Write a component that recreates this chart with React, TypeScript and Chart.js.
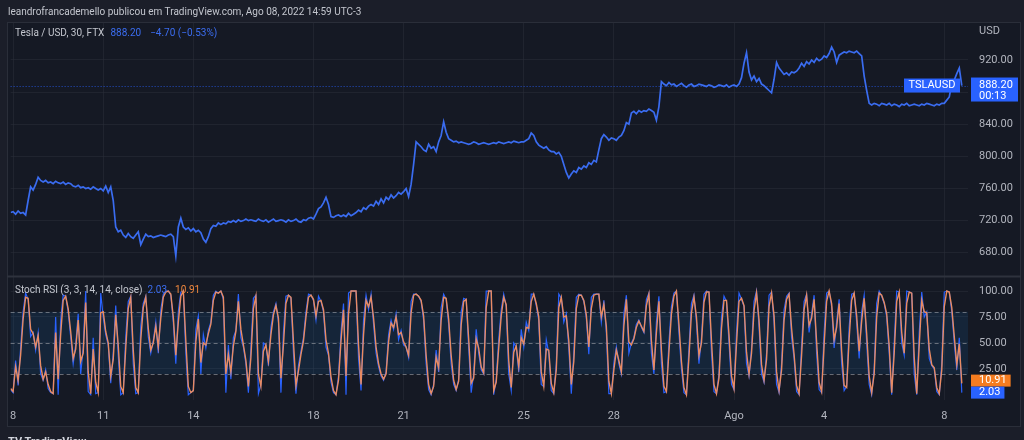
import React, { useEffect, useRef } from 'react';
import { Chart, registerables } from 'chart.js';

Chart.register(...registerables);

// ---- data (2-hour samples; day 0 = Jul 8 00:00, UTC-3) ----
const startDay = -1 / 12;
const stepDays = 1 / 12;

const priceValues = [
  730,
  731, 728, 732, 729, 730, 727, 745, 762, 758, 765, 774, 770,
  768, 770, 767, 768, 766, 769, 767, 766, 768, 765, 767, 766,
  763, 762, 764, 761, 762, 760, 761, 759, 762, 760, 758, 760,
  757, 763, 755, 762, 745, 712, 706, 708, 702, 699, 704, 700,
  698, 702, 706, 690, 697, 703, 700, 701, 699, 700, 701, 702,
  701, 700, 702, 703, 700, 676, 712, 723, 712, 709, 711, 707,
  710, 706, 708, 705, 697, 693, 700, 710, 714, 713, 717, 715,
  717, 716, 719, 718, 720, 718, 721, 719, 720, 722, 720, 721,
  720, 719, 722, 720, 719, 721, 718, 720, 722, 719, 720, 721,
  720, 718, 721, 719, 720, 722, 719, 718, 721, 720, 723, 724,
  722, 728, 735, 737, 742, 749, 740, 725, 724, 726, 727, 725,
  727, 725, 729, 726, 728, 730, 733, 731, 736, 734, 738, 740,
  738, 744, 740, 747, 742, 749, 746, 752, 748, 751, 755, 753,
  756, 760, 750, 765, 790, 818, 815, 812, 808, 806, 815, 810,
  812, 806, 818, 826, 843, 830, 822, 820, 818, 819, 817, 818,
  817, 816, 815, 816, 818, 817, 815, 816, 817, 816, 815, 816,
  817, 816, 818, 817, 816, 817, 818, 817, 819, 818, 817, 818,
  818, 820, 822, 829, 826, 818, 814, 812, 810, 812, 808, 806,
  806, 803, 805, 800, 790, 780, 773, 778, 782, 780, 786, 784,
  788, 786, 792, 790, 795, 793, 808, 822, 827, 824, 820, 823,
  822, 820, 824, 826, 832, 842, 840, 854, 856, 853, 857, 855,
  857, 856, 859, 857, 855, 845, 862, 893, 890, 888, 892, 889,
  890, 887, 889, 891, 888, 886, 889, 890, 887, 888, 890, 889,
  888, 887, 889, 888, 886, 887, 889, 888, 887, 889, 886, 888,
  889, 887, 890, 898, 916, 929, 905, 895, 900, 893, 897, 890,
  888, 885, 882, 879, 896, 917, 910, 906, 902, 904, 901, 905,
  904, 906, 910, 916, 912, 918, 915, 920, 917, 922, 919, 921,
  925, 923, 928, 936, 930, 917, 926, 928, 930, 929, 931, 930,
  929, 931, 928, 925, 900, 882, 866, 864, 866, 865, 863, 866,
  865, 864, 866, 863, 865, 864, 862, 865, 864, 866, 863, 864,
  865, 864, 863, 865, 864, 866, 865, 864, 863, 865, 864, 866,
  866, 870, 874, 891, 895, 903, 910, 888.2,
];

const stochK = [
  5,
  2, 33, 9, 45, 80, 98, 92, 56, 60, 43, 60, 20,
  14, 24, 6, 2, 1, 75, 0, 72, 96, 95, 80, 56,
  30, 48, 78, 20, 45, 100, 3, 0, 55, 1, 2, 98,
  75, 58, 48, 11, 40, 86, 38, 0, 2, 56, 90, 95,
  30, 1, 2, 66, 88, 95, 56, 40, 52, 70, 40, 82,
  97, 100, 100, 96, 70, 30, 80, 99, 100, 40, 0, 2,
  4, 63, 76, 20, 58, 45, 62, 70, 96, 100, 98, 100,
  92, 2, 48, 15, 55, 62, 97, 55, 46, 30, 2, 45,
  93, 96, 1, 10, 50, 48, 28, 65, 80, 88, 70, 2,
  60, 95, 96, 93, 40, 1, 28, 42, 55, 80, 97, 96,
  91, 72, 95, 90, 80, 46, 38, 12, 2, 0, 18, 60,
  88, 0, 98, 100, 100, 100, 35, 4, 72, 96, 82, 97,
  68, 40, 27, 18, 14, 22, 58, 72, 63, 78, 53, 62,
  48, 46, 36, 90, 97, 97, 95, 90, 72, 30, 5, 0,
  10, 43, 22, 84, 97, 92, 68, 30, 10, 4, 15, 80,
  93, 92, 45, 2, 20, 63, 40, 24, 20, 100, 100, 100,
  0, 15, 53, 82, 97, 85, 20, 4, 50, 46, 22, 63,
  46, 70, 62, 97, 97, 86, 72, 10, 8, 53, 40, 4,
  1, 30, 97, 93, 70, 78, 45, 1, 40, 94, 97, 96,
  90, 74, 39, 94, 97, 97, 97, 70, 91, 60, 1, 1,
  30, 46, 30, 20, 78, 96, 40, 50, 55, 68, 72, 65,
  60, 92, 98, 40, 20, 70, 95, 30, 2, 3, 50, 85,
  98, 100, 60, 25, 2, 0, 45, 88, 96, 70, 30, 55,
  97, 100, 99, 40, 3, 1, 20, 75, 95, 90, 50, 10,
  5, 60, 98, 92, 85, 30, 18, 45, 90, 100, 65, 20,
  12, 40, 96, 99, 70, 10, 2, 30, 82, 95, 98, 55,
  35, 3, 0, 48, 90, 97, 60, 78, 96, 40, 5, 2,
  60, 98, 100, 85, 45, 70, 92, 30, 4, 8, 65, 97,
  98, 70, 35, 80, 96, 50, 10, 0, 25, 88, 100, 95,
  88, 75, 40, 0, 50, 100, 99, 50, 38, 100, 99, 98,
  20, 0, 60, 99, 75, 80, 35, 28, 25, 3, 0, 30,
  99, 100, 99, 80, 50, 24, 55, 2.03,
];

const stochD = [
  6,
  3, 27, 14, 38, 73, 94, 93, 63, 59, 46, 57, 28,
  15, 22, 10, 3, 1, 60, 15, 58, 91, 95, 83, 61,
  35, 44, 72, 32, 40, 89, 22, 1, 44, 12, 2, 79,
  80, 61, 50, 18, 34, 77, 48, 8, 2, 45, 83, 94,
  43, 7, 2, 53, 84, 94, 64, 43, 50, 66, 46, 74,
  94, 99, 100, 97, 75, 38, 70, 95, 100, 52, 8, 2,
  4, 51, 73, 31, 50, 48, 59, 68, 91, 99, 98, 100,
  94, 20, 39, 22, 47, 61, 90, 63, 48, 33, 8, 36,
  83, 95, 20, 8, 42, 48, 32, 58, 77, 86, 74, 16,
  48, 88, 96, 94, 51, 9, 23, 39, 52, 75, 94, 96,
  92, 76, 90, 91, 82, 53, 40, 17, 4, 0, 14, 52,
  82, 18, 78, 100, 100, 100, 48, 10, 58, 91, 85, 94,
  74, 46, 30, 20, 15, 20, 51, 69, 65, 75, 58, 60,
  51, 46, 38, 79, 96, 97, 95, 91, 76, 38, 10, 1,
  8, 36, 26, 72, 94, 93, 73, 38, 14, 5, 13, 67,
  90, 92, 54, 11, 16, 54, 45, 27, 21, 84, 100, 100,
  4, 12, 45, 76, 94, 87, 33, 7, 41, 47, 27, 55,
  49, 65, 64, 90, 97, 88, 75, 22, 8, 44, 43, 11,
  2, 24, 84, 94, 75, 76, 52, 10, 32, 83, 96, 96,
  91, 77, 46, 83, 96, 97, 97, 75, 87, 66, 13, 1,
  24, 43, 33, 22, 66, 92, 51, 48, 54, 65, 71, 66,
  61, 86, 97, 52, 24, 60, 90, 43, 8, 3, 41, 78,
  95, 100, 68, 32, 7, 0, 36, 79, 94, 75, 38, 50,
  89, 99, 99, 52, 10, 1, 16, 64, 91, 91, 58, 18,
  6, 49, 90, 93, 86, 41, 20, 40, 81, 98, 72, 29,
  14, 34, 85, 98, 76, 22, 4, 24, 72, 92, 97, 64,
  39, 9, 1, 38, 82, 96, 67, 74, 92, 51, 12, 3,
  48, 90, 100, 88, 53, 65, 88, 42, 9, 7, 54, 91,
  98, 76, 42, 71, 93, 59, 18, 2, 20, 75, 98, 96,
  89, 78, 47, 2, 40, 90, 99, 60, 40, 88, 99, 98,
  36, 1, 48, 91, 80, 79, 44, 29, 26, 7, 1, 24,
  85, 100, 99, 84, 56, 29, 49, 10.91,
];

const dayTickValues = [0, 3, 6, 10, 13, 17, 20, 24, 27, 31];
const dayTickLabels = ['8', '11', '14', '18', '21', '25', '28', 'Ago', '4', '8'];
const priceTicks = [680, 720, 760, 800, 840, 880, 920];
const rsiTicks = [25, 50, 75, 100];
const rsiBandLevels = [80, 50, 20];

// ---- styles ----
const FONT = 'Roboto, "Liberation Sans", sans-serif';
const OUTER_BG = '#1b1e29';
const INNER_BG = '#151924';
const FRAME_COLOR = '#2a2e39';
const GRID = 'rgba(42,46,57,0.55)';
const TEXT = '#b2b5be';
const BLUE = '#2962ff';
const PRICE_BLUE = '#3a6cf0';
const ORANGE = '#e98b62';
const FRAME = { left: 7, top: 22, right: 1021, bottom: 427 };

const toPoints = (vals: number[]) => vals.map((v, i) => ({ x: startDay + i * stepDays, y: v }));

const decor = {
  id: 'decor',
  beforeDraw(chart: any) {
    const { ctx } = chart;
    ctx.save();
    ctx.fillStyle = INNER_BG;
    ctx.fillRect(FRAME.left, FRAME.top, FRAME.right - FRAME.left, FRAME.bottom - FRAME.top);
    ctx.strokeStyle = FRAME_COLOR;
    ctx.lineWidth = 1;
    ctx.strokeRect(FRAME.left + 0.5, FRAME.top + 0.5, FRAME.right - FRAME.left - 1, FRAME.bottom - FRAME.top - 1);
    ctx.restore();
  },
  beforeDatasetsDraw(chart: any) {
    const { ctx, chartArea, scales } = chart;
    const r = scales.rsi;
    const p = scales.y;
    ctx.save();
    const yTop = r.getPixelForValue(rsiBandLevels[0]);
    const yBot = r.getPixelForValue(rsiBandLevels[2]);
    ctx.fillStyle = 'rgba(33,150,243,0.10)';
    ctx.fillRect(chartArea.left, yTop, chartArea.right - chartArea.left, yBot - yTop);
    ctx.strokeStyle = 'rgba(150,153,162,0.65)';
    ctx.lineWidth = 1;
    ctx.setLineDash([4, 3]);
    rsiBandLevels.forEach((lv) => {
      const yy = Math.round(r.getPixelForValue(lv)) + 0.5;
      ctx.beginPath();
      ctx.moveTo(chartArea.left, yy);
      ctx.lineTo(chartArea.right, yy);
      ctx.stroke();
    });
    const last = priceValues[priceValues.length - 1];
    const yp = Math.round(p.getPixelForValue(last)) + 0.5;
    ctx.strokeStyle = 'rgba(41,98,255,0.75)';
    ctx.setLineDash([1, 2]);
    ctx.beginPath();
    ctx.moveTo(chartArea.left, yp);
    ctx.lineTo(chartArea.right, yp);
    ctx.stroke();
    ctx.setLineDash([]);
    const ys = Math.round(p.bottom) + 0.5;
    ctx.strokeStyle = '#2e323d';
    ctx.lineWidth = 2;
    ctx.beginPath();
    ctx.moveTo(FRAME.left, ys);
    ctx.lineTo(FRAME.right, ys);
    ctx.stroke();
    ctx.restore();
  },
  afterDraw(chart: any) {
    const { ctx, chartArea, scales } = chart;
    const p = scales.y;
    const r = scales.rsi;
    ctx.save();
    ctx.font = `11px ${FONT}`;
    ctx.textBaseline = 'middle';
    ctx.textAlign = 'left';
    ctx.fillStyle = TEXT;
    ctx.fillText('USD', chartArea.right + 11, 31);
    const last = priceValues[priceValues.length - 1];
    const yp = p.getPixelForValue(last);
    const name = 'TSLAUSD';
    const nw = ctx.measureText(name).width + 9;
    ctx.fillStyle = BLUE;
    ctx.fillRect(chartArea.right - 8 - nw, yp - 7, nw, 14);
    ctx.fillStyle = '#ffffff';
    ctx.fillText(name, chartArea.right - 8 - nw + 4.5, yp);
    ctx.fillStyle = BLUE;
    ctx.fillRect(chartArea.right + 3, yp - 8, 47, 24);
    ctx.fillStyle = '#ffffff';
    ctx.fillText(last.toFixed(2), chartArea.right + 11, yp);
    ctx.fillText('00:13', chartArea.right + 11, yp + 11);
    const kLast = stochK[stochK.length - 1];
    const dLast = stochD[stochD.length - 1];
    const yk = r.getPixelForValue(kLast);
    const yd = Math.min(r.getPixelForValue(dLast), yk - 12);
    const dw = ctx.measureText(dLast.toFixed(2)).width + 12;
    ctx.fillStyle = '#f57c1f';
    ctx.fillRect(chartArea.right + 3, yd - 6, dw, 12);
    ctx.fillStyle = '#ffffff';
    ctx.fillText(dLast.toFixed(2), chartArea.right + 11, yd);
    const kw = ctx.measureText(kLast.toFixed(2)).width + 12;
    ctx.fillStyle = BLUE;
    ctx.fillRect(chartArea.right + 3, yk - 6, kw, 12);
    ctx.fillStyle = '#ffffff';
    ctx.fillText(kLast.toFixed(2), chartArea.right + 11, yk);
    ctx.restore();
  },
};

export default function App() {
  const canvasRef = useRef<HTMLCanvasElement | null>(null);

  useEffect(() => {
    const canvas = canvasRef.current;
    if (!canvas) return;
    Chart.defaults.font.family = FONT;
    Chart.defaults.font.size = 11;
    const chart = new Chart(canvas, {
      type: 'line',
      data: {
        datasets: [
          {
            label: 'Tesla / USD',
            data: toPoints(priceValues),
            yAxisID: 'y',
            borderColor: PRICE_BLUE,
            borderWidth: 1.7,
            pointRadius: 0,
            tension: 0,
            order: 0,
          },
          {
            label: '%D',
            data: toPoints(stochD),
            yAxisID: 'rsi',
            borderColor: ORANGE,
            borderWidth: 1.4,
            pointRadius: 0,
            tension: 0,
            order: 1,
          },
          {
            label: '%K',
            data: toPoints(stochK),
            yAxisID: 'rsi',
            borderColor: BLUE,
            borderWidth: 1.2,
            pointRadius: 0,
            tension: 0,
            order: 2,
          },
        ],
      },
      options: {
        animation: false,
        responsive: false,
        maintainAspectRatio: false,
        layout: { padding: { left: 7, top: 22, right: 0, bottom: 12 } },
        plugins: { legend: { display: false }, tooltip: { enabled: false } },
        scales: {
          x: {
            type: 'linear',
            min: -0.083,
            max: 31.79,
            afterBuildTicks: (s: any) => {
              s.ticks = dayTickValues.map((v) => ({ value: v }));
            },
            afterFit: (s: any) => {
              s.height = 28;
            },
            ticks: {
              autoSkip: false,
              maxRotation: 0,
              padding: 10,
              color: TEXT,
              font: { size: 11, family: FONT },
              callback: (v: any) => {
                const i = dayTickValues.indexOf(Number(v));
                return i >= 0 ? dayTickLabels[i] : '';
              },
            },
            grid: { color: GRID, drawTicks: false },
            border: { display: false },
          },
          y: {
            type: 'linear',
            position: 'right',
            stack: 'panes',
            stackWeight: 254,
            min: 651,
            max: 967.3,
            afterBuildTicks: (s: any) => {
              s.ticks = priceTicks.map((v) => ({ value: v }));
            },
            afterFit: (s: any) => {
              s.width = 56;
            },
            ticks: {
              padding: 11,
              color: TEXT,
              font: { size: 11, family: FONT },
              callback: (v: any) => Number(v).toFixed(2),
            },
            grid: { color: GRID, drawTicks: false },
            border: { display: false },
          },
          rsi: {
            type: 'linear',
            position: 'right',
            stack: 'panes',
            stackWeight: 124,
            min: -5.1,
            max: 114.5,
            afterBuildTicks: (s: any) => {
              s.ticks = rsiTicks.map((v) => ({ value: v }));
            },
            afterFit: (s: any) => {
              s.width = 56;
            },
            ticks: {
              padding: 11,
              color: TEXT,
              font: { size: 11, family: FONT },
              callback: (v: any) => Number(v).toFixed(2),
            },
            grid: { color: GRID, drawTicks: false },
            border: { display: false },
          },
        },
      },
      plugins: [decor],
    } as any);
    return () => chart.destroy();
  }, []);

  const lbl: React.CSSProperties = {
    position: 'absolute',
    whiteSpace: 'nowrap',
    fontSize: 10,
    lineHeight: '14px',
  };

  return (
    <div
      style={{
        position: 'fixed',
        left: 0,
        top: 0,
        width: 1024,
        height: 440,
        overflow: 'hidden',
        background: OUTER_BG,
        fontFamily: FONT,
      }}
    >
      <canvas
        ref={canvasRef}
        width={1024}
        height={440}
        style={{ position: 'absolute', left: 0, top: 0, width: 1024, height: 440 }}
      />
      <div style={{ ...lbl, left: 8, top: 5, color: '#c3c6ce' }}>
        leandrofrancademello publicou em TradingView.com, Ago 08, 2022 14:59 UTC-3
      </div>
      <div style={{ ...lbl, left: 15, top: 26, color: '#c3c6ce' }}>
        Tesla / USD, 30, FTX
        <span style={{ color: '#3b6df0', marginLeft: 6 }}>{priceValues[priceValues.length - 1].toFixed(2)}</span>
        <span style={{ color: '#3b6df0', marginLeft: 9 }}>−4.70 (−0.53%)</span>
      </div>
      <div style={{ ...lbl, left: 15, top: 283, color: '#c3c6ce' }}>
        Stoch RSI (3, 3, 14, 14, close)
        <span style={{ color: '#3b6df0', marginLeft: 5 }}>{stochK[stochK.length - 1].toFixed(2)}</span>
        <span style={{ color: '#f0883e', marginLeft: 8 }}>{stochD[stochD.length - 1].toFixed(2)}</span>
      </div>
      <div style={{ ...lbl, left: 8, top: 435, color: '#d1d4dc', fontWeight: 700, fontSize: 11 }}>TV TradingView</div>
    </div>
  );
}
